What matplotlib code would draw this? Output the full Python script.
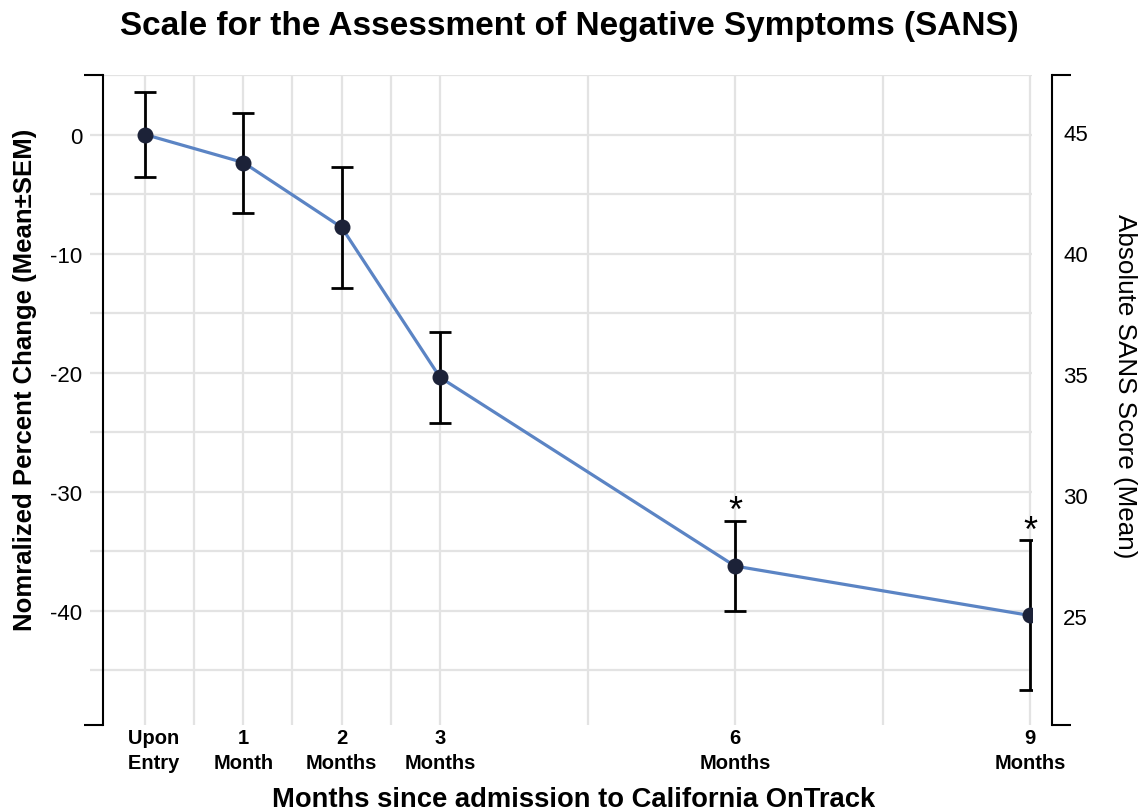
import matplotlib
matplotlib.use("Agg")
import matplotlib.pyplot as plt

plt.rcParams['font.family'] = ['Liberation Sans', 'DejaVu Sans']
plt.rcParams['axes.unicode_minus'] = False

# données
mois = [0, 1, 2, 3, 6, 9]
etiquettes = ["   Upon\n   Entry", "1\nMonth", "2\nMonths", "3\nMonths", "6\nMonths", "9\nMonths"]
moyenne = [0.0, -2.35, -7.8, -20.4, -36.25, -40.4]
sem = [3.6, 4.2, 5.1, 3.8, 3.75, 6.3]
significatif = [False, False, False, False, True, True]
mois_mineurs = [0.5, 1.5, 2.5, 4.5, 7.5]
y_majeurs = [0, -10, -20, -30, -40]
y_mineurs = [5, -5, -15, -25, -35, -45]
sans_ticks = [25, 30, 35, 40, 45]


def vers_sans(y):
    # score absolu (axe droit) en fonction du % normalisé (axe gauche)
    return 45 + 0.491 * (y - 0.25)


fig = plt.figure(figsize=(11.43, 8.12), dpi=100)
ax = fig.add_axes([90 / 1143, 1 - 726 / 812, 942 / 1143, 650 / 812])

ax.set_xlim(-0.559, 9.02)
ax.set_ylim(-49.6, 5)

# grille
ax.set_xticks(mois)
ax.set_xticks(mois_mineurs, minor=True)
ax.set_yticks(y_majeurs)
ax.set_yticks(y_mineurs, minor=True)
ax.grid(True, which='both', color='#e3e3e3', linewidth=1.6, zorder=0)
ax.set_axisbelow(True)

# courbe + barres d'erreur
ax.plot(mois, moyenne, color='#5b84c4', linewidth=2.3, zorder=3)
ax.errorbar(mois, moyenne, yerr=sem, fmt='none', ecolor='black',
            elinewidth=2.0, capsize=8, capthick=2.0, zorder=4)
ax.plot(mois, moyenne, 'o', color='#1c2238', markersize=10.5, zorder=5)

for m, y, e, s in zip(mois, moyenne, sem, significatif):
    if s:
        ax.annotate('*', (m, y + e), xytext=(0, 0), textcoords='offset points',
                    ha='center', va='baseline', fontsize=26)

# axes
for cote in ['top', 'bottom', 'right']:
    ax.spines[cote].set_visible(False)
ax.spines['left'].set_position(('outward', -13 * 0.72))
ax.spines['left'].set_linewidth(1.5)

ax.set_xticklabels(etiquettes, fontweight='bold', fontsize=14.5, linespacing=1.4)
ax.tick_params(axis='x', which='both', length=0, pad=2)
ax.tick_params(axis='y', which='both', length=0, pad=15, labelsize=16)

ax2 = ax.twinx()
ax2.set_ylim(vers_sans(-49.6), vers_sans(5))
ax2.set_yticks(sans_ticks)
for cote in ['top', 'bottom', 'left']:
    ax2.spines[cote].set_visible(False)
ax2.spines['right'].set_position(('outward', 20 * 0.72))
ax2.spines['right'].set_linewidth(1.5)
ax2.tick_params(axis='y', length=0, pad=8, labelsize=16)

# petits crochets aux extrémités des axes
xg, xd = 13 / 942, 962 / 942
for yy in [0, 1]:
    ax.plot([xg - 19 / 942, xg], [yy, yy], transform=ax.transAxes,
            color='black', linewidth=1.5, clip_on=False, solid_capstyle='butt')
    ax.plot([xd, xd + 19 / 942], [yy, yy], transform=ax.transAxes,
            color='black', linewidth=1.5, clip_on=False, solid_capstyle='butt')

fig.text(25 / 1143, 1 - 380 / 812, 'Nomralized Percent Change (Mean±SEM)',
         rotation=90, ha='center', va='center', fontweight='bold', fontsize=18.5)
fig.text(1125 / 1143, 1 - 386 / 812, 'Absolute SANS Score (Mean)',
         rotation=270, ha='center', va='center', fontsize=18.7)

fig.text(574 / 1143, 1 - 800 / 812, 'Months since admission to California OnTrack',
         ha='center', va='center', fontweight='bold', fontsize=19.7)
fig.text(569 / 1143, 1 - 27 / 812, 'Scale for the Assessment of Negative Symptoms (SANS)',
         ha='center', va='center', fontweight='bold', fontsize=24)

fig.savefig('out.png', dpi=100)
